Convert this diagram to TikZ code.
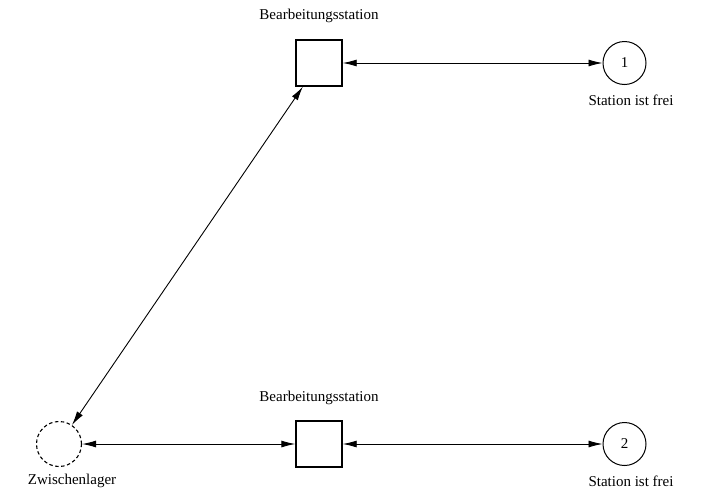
\documentclass[tikz,border=0pt]{standalone}
\usepackage{fontspec}
\setmainfont{Liberation Serif}
\usetikzlibrary{arrows.meta}

\begin{document}
\begin{tikzpicture}[x=1pt,y=-1pt,
    machine/.style={draw, line width=1.4pt, minimum size=46pt, inner sep=0pt},
    token/.style={circle, draw, line width=1pt, minimum size=43pt, inner sep=0pt, font=\fontsize{15}{17}\selectfont},
    buffer/.style={circle, draw, line width=1.1pt, dash pattern=on 3.5pt off 2.5pt, minimum size=45pt, inner sep=0pt},
    link/.style={{Latex[length=14pt,width=7pt]}-{Latex[length=14pt,width=7pt]}, line width=0.9pt},
    labelnode/.style={font=\fontsize{15}{17}\selectfont}]
\useasboundingbox (0,0) rectangle (709,491);
% stations and places
\node[machine] (stationA) at (319,63) {};
\node[machine] (stationB) at (319,444) {};
\node[token] (freeA) at (624.5,63) {1};
\node[token] (freeB) at (624.5,444) {2};
\node[buffer] (store) at (59,444) {};
% labels
\node[labelnode] (stationAlabel) at (319,16) {Bearbeitungsstation};
\node[labelnode] (stationBlabel) at (319,398) {Bearbeitungsstation};
\node[labelnode] (freeAlabel) at (631,100) {Station ist frei};
\node[labelnode] (freeBlabel) at (631,481) {Station ist frei};
\node[labelnode] (storelabel) at (72,481) {Zwischenlager};
% connections
\draw[link] (stationA) -- (freeA);
\draw[link] (stationB) -- (freeB);
\draw[link] (store) -- (stationB);
\draw[link] (store) -- (stationA);
\end{tikzpicture}
\end{document}
